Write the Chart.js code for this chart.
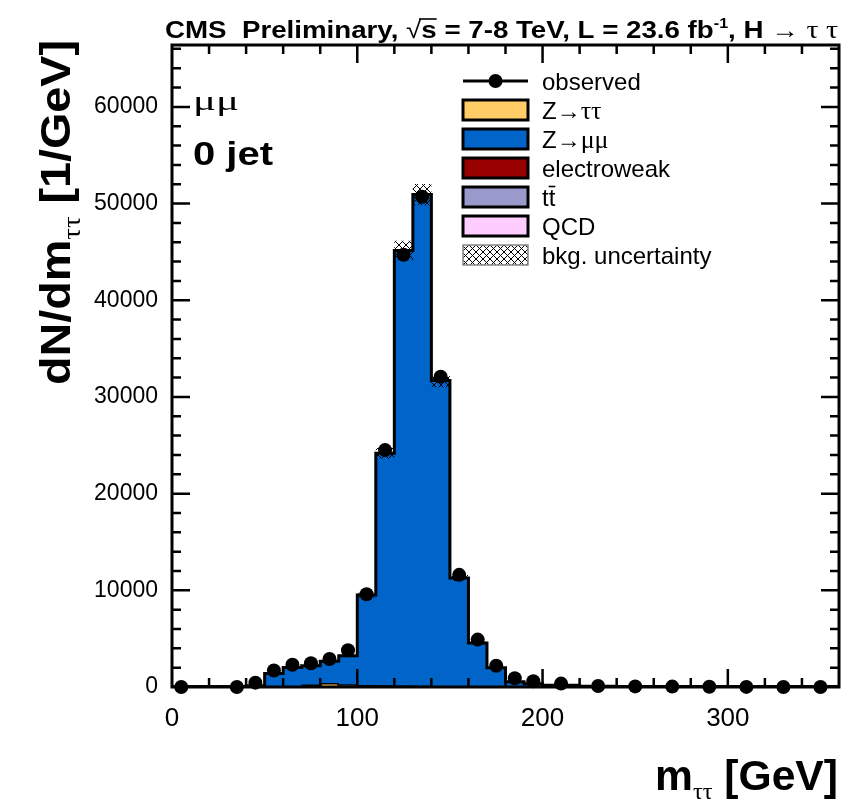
<!DOCTYPE html>
<html>
<head>
<meta charset="utf-8">
<title>m_tautau, mu-mu 0 jet</title>
<script src="https://cdn.jsdelivr.net/npm/chart.js@4.4.1/dist/chart.umd.min.js"></script>
<style>
  html, body { margin: 0; padding: 0; background: #fff; }
  #wrap { width: 867px; height: 801px; }
</style>
</head>
<body>
<div id="wrap"><canvas id="mttChart" width="867" height="801"></canvas></div>
<script>
// Bin edges in GeV: 10 GeV bins up to 200, 20 GeV bins above.
var BIN_EDGES = [0, 10, 20, 30, 40, 50, 60, 70, 80, 90, 100, 110, 120, 130, 140, 150,
  160, 170, 180, 190, 200, 220, 240, 260, 280, 300, 320, 340, 360];

// Events / GeV per bin (null = no marker drawn)
var OBSERVED = [0, null, null, 0, 450, 1700, 2300, 2450, 2900, 3800, 9600, 24500, 44700,
  50700, 32100, 11600, 4900, 2200, 900, 600, 350, 100, 60, 40, 20, 10, 5, 5];
var ZMM = [0, 0, 0, 0, 100, 1350, 1900, 1950, 2250, 2950, 9300, 24000, 45000, 50800,
  31600, 11200, 4500, 1950, 500, 300, 150, 60, 30, 20, 10, 5, 0, 0];
var ZTT = [0, 0, 0, 0, 0, 0, 40, 150, 300, 180, 90, 40, 20, 10, 5, 0, 0, 0, 0, 0, 0, 0,
  0, 0, 0, 0, 0, 0];
var EWK = [0, 0, 0, 0, 5, 10, 20, 30, 40, 40, 50, 60, 70, 60, 50, 40, 30, 25, 20, 15, 10,
  8, 5, 3, 2, 1, 1, 0];
var TTBAR = [0, 0, 0, 0, 5, 10, 15, 20, 25, 30, 35, 40, 40, 35, 30, 25, 20, 15, 12, 10, 8,
  5, 3, 2, 1, 1, 0, 0];
var QCD = [0, 0, 0, 0, 10, 30, 40, 50, 50, 40, 30, 30, 20, 20, 10, 10, 5, 5, 3, 2, 1, 0,
  0, 0, 0, 0, 0, 0];
var BKG_UNC = [0, 0, 0, 0, 10, 40, 50, 50, 60, 80, 250, 550, 1000, 1100, 700, 300, 130,
  60, 25, 15, 10, 5, 3, 2, 1, 1, 0, 0];

var X_TICKS = [0, 100, 200, 300];
var Y_TICKS = [0, 10000, 20000, 30000, 40000, 50000, 60000];
var X_MAX = 360;
var Y_MAX = 66400;

(function () {
  var canvas = document.getElementById('mttChart');
  var SANS = '"Liberation Sans", Arial, "DejaVu Sans", sans-serif';
  var SERIF = '"Liberation Serif", "DejaVu Serif", serif';

  var COLORS = {
    ztt: '#ffcc66',
    zmm: '#0064c8',
    ewk: '#990000',
    ttbar: '#9999cc',
    qcd: '#ffccff',
  };

  function hatchPattern(bg) {
    var c = document.createElement('canvas');
    c.width = 7; c.height = 7;
    var g = c.getContext('2d');
    if (bg) { g.fillStyle = bg; g.fillRect(0, 0, 7, 7); }
    g.strokeStyle = '#000';
    g.lineWidth = 1;
    g.beginPath();
    g.moveTo(0, 0); g.lineTo(7, 7);
    g.moveTo(7, 0); g.lineTo(0, 7);
    g.stroke();
    return canvas.getContext('2d').createPattern(c, 'repeat');
  }

  function addUp(a, b) {
    return a.map(function (v, i) { return v + b[i]; });
  }

  // histogram -> step outline points along the bin edges
  function stepPoints(values) {
    var pts = [{ x: BIN_EDGES[0], y: 0 }];
    values.forEach(function (v, i) {
      pts.push({ x: BIN_EDGES[i], y: v });
      pts.push({ x: BIN_EDGES[i + 1], y: v });
    });
    pts.push({ x: BIN_EDGES[values.length], y: 0 });
    return pts;
  }

  function binCenters(values) {
    var pts = [];
    values.forEach(function (v, i) {
      if (v === null) return;
      pts.push({ x: (BIN_EDGES[i] + BIN_EDGES[i + 1]) / 2, y: v });
    });
    return pts;
  }

  var cumQcd = QCD;
  var cumTt = addUp(cumQcd, TTBAR);
  var cumEwk = addUp(cumTt, EWK);
  var cumZtt = addUp(cumEwk, ZTT);
  var total = addUp(cumZtt, ZMM);
  var uncUp = total.map(function (v, i) { return v + BKG_UNC[i]; });
  var uncDown = total.map(function (v, i) { return Math.max(0, v - BKG_UNC[i]); });

  function stackDs(label, values, color, fill, order) {
    return {
      label: label,
      data: stepPoints(values),
      borderColor: '#000',
      borderWidth: 3,
      backgroundColor: color,
      fill: fill,
      pointRadius: 0,
      order: order,
    };
  }

  var datasets = [
    stackDs('QCD', cumQcd, COLORS.qcd, 'origin', 7),
    stackDs('ttbar', cumTt, COLORS.ttbar, 0, 6),
    stackDs('electroweak', cumEwk, COLORS.ewk, 1, 5),
    stackDs('Z->tautau', cumZtt, COLORS.ztt, 2, 4),
    stackDs('Z->mumu', total, COLORS.zmm, 3, 3),
    {
      label: 'unc up',
      data: stepPoints(uncUp),
      borderWidth: 0,
      backgroundColor: hatchPattern(null),
      fill: 6,
      pointRadius: 0,
      order: 2,
    },
    {
      label: 'unc down',
      data: stepPoints(uncDown),
      borderWidth: 0,
      fill: false,
      pointRadius: 0,
      order: 2,
    },
    {
      label: 'observed',
      data: binCenters(OBSERVED),
      showLine: false,
      pointRadius: 7,
      pointHoverRadius: 7,
      pointBackgroundColor: '#000',
      pointBorderWidth: 0,
      clip: false,
      order: 0,
    },
  ];

  // text in pieces (font changes, sub/superscripts), squeezed to a target width
  function drawRich(ctx, parts, x, y, width) {
    var tot = 0;
    parts.forEach(function (p) {
      ctx.font = p.font;
      p.w = ctx.measureText(p.t).width;
      tot += p.w;
    });
    var sx = width ? width / tot : 1;
    ctx.save();
    ctx.translate(x, y);
    ctx.scale(sx, 1);
    var cx = 0;
    parts.forEach(function (p) {
      ctx.font = p.font;
      ctx.fillText(p.t, cx, p.dy || 0);
      if (p.bar) {
        ctx.lineWidth = 1.6;
        ctx.beginPath();
        ctx.moveTo(cx - (p.barLeft || 0), p.bar);
        ctx.lineTo(cx + p.w, p.bar);
        ctx.stroke();
      }
      cx += p.w;
    });
    ctx.restore();
  }

  var framePlugin = {
    id: 'rootFrame',
    afterDatasetsDraw: function (chart) {
      var ctx = chart.ctx;
      var a = chart.chartArea;
      var xs = chart.scales.x;
      var ys = chart.scales.y;
      ctx.save();
      ctx.strokeStyle = '#000';
      ctx.lineWidth = 2.5;
      ctx.beginPath();
      for (var v = 20; v < X_MAX; v += 20) {
        var len = v % 100 === 0 ? 18 : 9;
        var px = xs.getPixelForValue(v);
        ctx.moveTo(px, a.bottom); ctx.lineTo(px, a.bottom - len);
        ctx.moveTo(px, a.top); ctx.lineTo(px, a.top + len);
      }
      for (var w = 2000; w < Y_MAX; w += 2000) {
        var len2 = w % 10000 === 0 ? 18 : 9;
        var py = ys.getPixelForValue(w);
        ctx.moveTo(a.left, py); ctx.lineTo(a.left + len2, py);
        ctx.moveTo(a.right, py); ctx.lineTo(a.right - len2, py);
      }
      ctx.stroke();
      ctx.lineWidth = 3;
      ctx.strokeRect(a.left, a.top, a.right - a.left, a.bottom - a.top);
      ctx.restore();
    },
    afterDraw: function (chart) {
      var ctx = chart.ctx;
      ctx.save();
      ctx.fillStyle = '#000';
      ctx.strokeStyle = '#000';
      ctx.textBaseline = 'alphabetic';

      // header
      drawRich(ctx, [
        { t: 'CMS  Preliminary, ', font: 'bold 24px ' + SANS },
        { t: '\u221a', font: '24px ' + SANS },
        { t: 's', font: 'bold 24px ' + SANS, bar: -19, barLeft: 2 },
        { t: ' = 7-8 TeV, L = 23.6 fb', font: 'bold 24px ' + SANS },
        { t: '-1', font: 'bold 14px ' + SANS, dy: -10 },
        { t: ', H ', font: 'bold 24px ' + SANS },
        { t: '\u2192', font: '24px ' + SANS },
        { t: ' \u03c4 \u03c4', font: '26px ' + SERIF },
      ], 165, 38, 673);

      // y title, rotated
      ctx.save();
      ctx.translate(70, 385);
      ctx.rotate(-Math.PI / 2);
      drawRich(ctx, [
        { t: 'dN/dm', font: 'bold 42px ' + SANS },
        { t: '\u03c4\u03c4', font: '26px ' + SERIF, dy: 10 },
        { t: ' [1/GeV]', font: 'bold 42px ' + SANS },
      ], 0, 0, 345);
      ctx.restore();

      // x title
      drawRich(ctx, [
        { t: 'm', font: 'bold 42px ' + SANS },
        { t: '\u03c4\u03c4', font: '24px ' + SERIF, dy: 9 },
        { t: ' [GeV]', font: 'bold 42px ' + SANS },
      ], 655, 790, 183);

      // channel / category
      drawRich(ctx, [{ t: '\u03bc\u03bc', font: '28px ' + SERIF }], 193, 110, 46);
      drawRich(ctx, [{ t: '0 jet', font: 'bold 33px ' + SANS }], 193, 165, 80);

      // legend
      var rows = [81, 110, 139, 168, 197, 226, 255];
      var bx = 463, bw = 65, bh = 20, tx = 542;
      ctx.lineWidth = 3;
      ctx.beginPath();
      ctx.moveTo(bx, rows[0]); ctx.lineTo(bx + bw, rows[0]);
      ctx.stroke();
      ctx.beginPath();
      ctx.arc(bx + bw / 2, rows[0], 7, 0, Math.PI * 2);
      ctx.fill();

      var boxes = [COLORS.ztt, COLORS.zmm, COLORS.ewk, COLORS.ttbar, COLORS.qcd];
      boxes.forEach(function (c, i) {
        var yc = rows[i + 1];
        ctx.fillStyle = c;
        ctx.fillRect(bx, yc - bh / 2, bw, bh);
        ctx.lineWidth = 3;
        ctx.strokeStyle = '#000';
        ctx.strokeRect(bx, yc - bh / 2, bw, bh);
      });
      ctx.fillStyle = hatchPattern('#fff');
      ctx.fillRect(bx, rows[6] - bh / 2, bw, bh);
      ctx.strokeStyle = '#888';
      ctx.lineWidth = 1.5;
      ctx.strokeRect(bx, rows[6] - bh / 2, bw, bh);

      ctx.fillStyle = '#000';
      ctx.strokeStyle = '#000';
      var LF = '24px ' + SANS;
      var base = 8.5;
      drawRich(ctx, [{ t: 'observed', font: LF }], tx, rows[0] + base);
      drawRich(ctx, [
        { t: 'Z', font: LF },
        { t: '\u2192', font: '24px ' + SANS },
        { t: '\u03c4\u03c4', font: '26px ' + SERIF },
      ], tx, rows[1] + base);
      drawRich(ctx, [
        { t: 'Z', font: LF },
        { t: '\u2192', font: '24px ' + SANS },
        { t: '\u03bc\u03bc', font: '26px ' + SERIF },
      ], tx, rows[2] + base);
      drawRich(ctx, [{ t: 'electroweak', font: LF }], tx, rows[3] + base);
      drawRich(ctx, [
        { t: 't', font: LF },
        { t: 't', font: LF, bar: -19 },
      ], tx, rows[4] + base);
      drawRich(ctx, [{ t: 'QCD', font: LF }], tx, rows[5] + base);
      drawRich(ctx, [{ t: 'bkg. uncertainty', font: LF }], tx, rows[6] + base);
      ctx.restore();
    },
  };

  function plainNumber(v) { return String(v); }

  new Chart(canvas.getContext('2d'), {
    type: 'line',
    data: { datasets: datasets },
    options: {
      responsive: false,
      animation: false,
      devicePixelRatio: 1,
      layout: { padding: { left: 0, top: 45, right: 28, bottom: 0 } },
      plugins: {
        legend: { display: false },
        tooltip: { enabled: false },
      },
      elements: { line: { tension: 0 } },
      scales: {
        x: {
          type: 'linear',
          min: 0,
          max: X_MAX,
          grid: { display: false, drawTicks: false },
          border: { display: false },
          afterBuildTicks: function (s) {
            s.ticks = X_TICKS.map(function (v) { return { value: v }; });
          },
          afterFit: function (s) { s.height = 114; },
          ticks: {
            padding: 16,
            maxRotation: 0,
            autoSkip: false,
            color: '#000',
            callback: plainNumber,
            font: { family: SANS, size: 26 },
          },
        },
        y: {
          type: 'linear',
          min: 0,
          max: Y_MAX,
          grid: { display: false, drawTicks: false },
          border: { display: false },
          afterBuildTicks: function (s) {
            s.ticks = Y_TICKS.map(function (v) { return { value: v }; });
          },
          afterFit: function (s) { s.width = 172; },
          ticks: {
            padding: 14,
            color: '#000',
            callback: plainNumber,
            font: { family: SANS, size: 23 },
          },
        },
      },
    },
    plugins: [framePlugin],
  });
})();
</script>
</body>
</html>
